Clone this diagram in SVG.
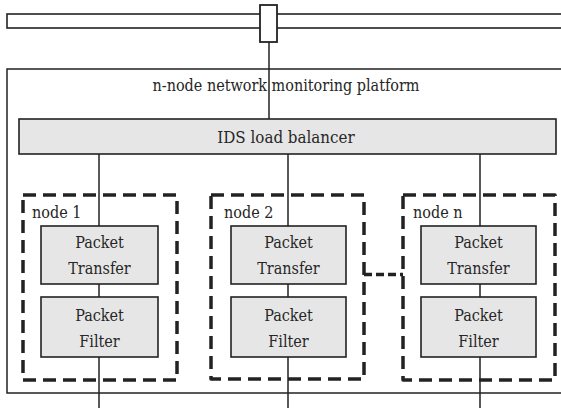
<svg xmlns="http://www.w3.org/2000/svg" width="561" height="411" viewBox="0 0 561 411">
  <style>
    text { font-family: "DejaVu Serif Condensed", "DejaVu Serif", serif; font-stretch: condensed; fill: #262626; }
    .lbl { font-size: 16px; text-anchor: middle; }
    .big { font-size: 16.8px; }
    .nlbl { font-size: 16px; }
    .box { fill: #e6e6e6; stroke: #222; stroke-width: 1.6; }
    .line { stroke: #222; stroke-width: 1.5; fill: none; }
    .dash { stroke: #222; stroke-width: 3.5; fill: none; stroke-dasharray: 13 7; stroke-linejoin: round; }
  </style>
  <rect width="561" height="411" fill="#fff"/>

  <g id="network-link">
    <rect x="7" y="14" width="560" height="14" fill="#fff" stroke="#222" stroke-width="1.6"/>
    <rect x="260" y="5" width="17" height="37" fill="#fff" stroke="#222" stroke-width="1.8"/>
  </g>

  <g id="platform">
    <rect x="7" y="69" width="560" height="324" fill="none" stroke="#222" stroke-width="1.5"/>
    <text class="lbl" x="286" y="91">n-node network monitoring platform</text>
  </g>

  <g id="connectors">
    <line class="line" x1="269" y1="42" x2="269" y2="119"/>
    <line class="line" x1="99" y1="154" x2="99" y2="408"/>
    <line class="line" x1="288" y1="154" x2="288" y2="408"/>
    <line class="line" x1="480" y1="154" x2="480" y2="408"/>
    <line stroke="#222" stroke-width="3.5" stroke-dasharray="8 4" x1="364" y1="274.5" x2="403" y2="274.5"/>
  </g>

  <g id="load-balancer">
    <rect class="box" x="19" y="119" width="537" height="35"/>
    <text class="lbl big" x="286" y="143">IDS load balancer</text>
  </g>

  <g id="node-1">
    <rect class="dash" x="23" y="195" width="154" height="185"/>
    <text class="nlbl" x="32" y="218">node 1</text>
    <rect class="box" x="41" y="226" width="117" height="58"/>
    <text class="lbl" x="99.5" y="248">Packet</text>
    <text class="lbl" x="99.5" y="274">Transfer</text>
    <rect class="box" x="41" y="297" width="117" height="60"/>
    <text class="lbl" x="99.5" y="321">Packet</text>
    <text class="lbl" x="99.5" y="347">Filter</text>
  </g>

  <g id="node-2">
    <rect class="dash" x="211" y="195" width="153" height="184"/>
    <text class="nlbl" x="224" y="218">node 2</text>
    <rect class="box" x="231" y="226" width="115" height="58"/>
    <text class="lbl" x="288.5" y="248">Packet</text>
    <text class="lbl" x="288.5" y="274">Transfer</text>
    <rect class="box" x="231" y="297" width="115" height="60"/>
    <text class="lbl" x="288.5" y="321">Packet</text>
    <text class="lbl" x="288.5" y="347">Filter</text>
  </g>

  <g id="node-n">
    <rect class="dash" x="403" y="195" width="152" height="185"/>
    <text class="nlbl" x="413" y="218">node n</text>
    <rect class="box" x="421" y="226" width="115" height="58"/>
    <text class="lbl" x="478.5" y="248">Packet</text>
    <text class="lbl" x="478.5" y="274">Transfer</text>
    <rect class="box" x="421" y="297" width="115" height="60"/>
    <text class="lbl" x="478.5" y="321">Packet</text>
    <text class="lbl" x="478.5" y="347">Filter</text>
  </g>
</svg>
